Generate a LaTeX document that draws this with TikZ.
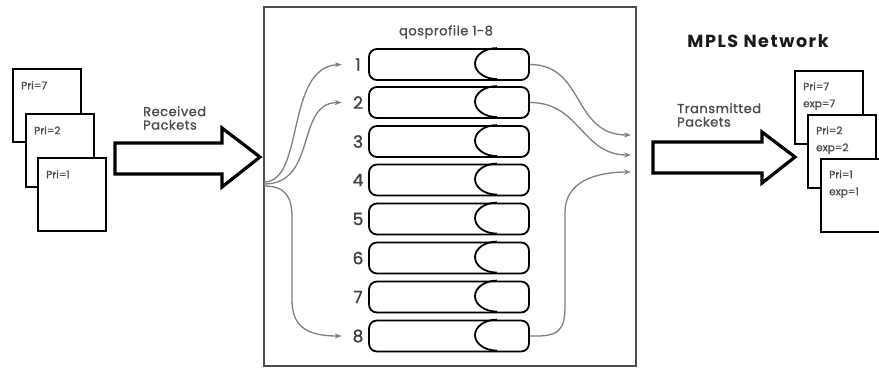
\documentclass[tikz,border=0pt]{standalone}
\usepackage{fontspec}
\setmainfont{Poppins}
\newfontfamily\medfont{Poppins}[FakeBold=1.2]
\newfontfamily\medwide{Poppins}[FakeBold=1.2,LetterSpace=4]
\newfontfamily\boldwide{Poppins}[LetterSpace=9]
\usetikzlibrary{arrows.meta}
\begin{document}
\begin{tikzpicture}[x=1pt,y=-1pt,
  pkt/.style={draw, line width=2.4pt, fill=white, minimum width=68pt, minimum height=73pt, anchor=north west, inner sep=0pt},
  pkttxt/.style={anchor=north west, inner sep=0pt, font=\medfont\fontsize{10.5}{17}\selectfont, text=black!70, align=left},
  bigarrow/.style={draw, line width=3.2pt, fill=white, line join=miter},
  lbl/.style={anchor=north west, inner sep=0pt, font=\medwide\fontsize{13}{13.5}\selectfont, text=black!70, align=left},
  queue/.style={draw, line width=1.8pt, rounded corners=8pt, minimum width=160pt, minimum height=31pt, inner sep=0pt},
  num/.style={minimum width=32pt, inner sep=0pt, font=\medfont\fontsize{17}{17}\selectfont, text=black!75},
  flow/.style={draw=black!50, line width=1.3pt, -{Stealth[length=7pt,width=5pt]}}
]
\useasboundingbox (0,0) rectangle (879,368);
\clip (0,0) rectangle (879,368);

% left packets
\node[pkt] (lp1) at (12,68) {};
\node[pkttxt] (lt1) at ([shift={(9,13)}]lp1.north west) {Pri=7};
\node[pkt] (lp2) at (25,113) {};
\node[pkttxt] (lt2) at ([shift={(9,13)}]lp2.north west) {Pri=2};
\node[pkt] (lp3) at (37,157) {};
\node[pkttxt] (lt3) at ([shift={(9,13)}]lp3.north west) {Pri=1};

% received arrow
\draw[bigarrow] (115,143) -- (222,143) -- (222,128) -- (260,157) -- (222,187) -- (222,174) -- (115,174) -- cycle;
\node[lbl] (rcv) at (143,106) {Received\\Packets};

% central box
\node[draw=black!70, line width=1.6pt, minimum width=372pt, minimum height=359pt, anchor=north west, inner sep=0pt] (box) at (263,6) {};
\node[inner sep=0pt, font=\medwide\fontsize{13}{13}\selectfont, text=black!70] (title) at (446,32) {qosprofile 1-8};

% queues
\foreach \i/\y in {1/64.5,2/102.5,3/141.5,4/180,5/219,6/258,7/297,8/336}{
  \node[queue] (q\i) at (449,\y) {};
  \draw[line width=1.8pt] ([xshift=48pt]q\i.north) arc[start angle=90, end angle=270, x radius=22pt, y radius=15.5pt];
  \node[num] (n\i) at (358,\y) {\i};
}

% inbound flows
\coordinate (fa) at (264,182);
\coordinate (fb) at (264,184);
\coordinate (fc) at (264,186);
\draw[flow] (fa) .. controls (305,182) and (285,67) .. (n1.west);
\draw[flow] (fb) .. controls (318,184) and (295,102.5) .. (n2.west);
\draw[flow] (fc) .. controls (285,186) and (292,196) .. (292,218) -- (292,300) .. controls (292,325) and (305,336) .. (n8.west);

% outbound flows
\coordinate (o1) at (631,135);
\coordinate (o2) at (631,155);
\coordinate (o3) at (631,172);
\draw[flow] (q1.east) .. controls (585,64.5) and (572,135) .. (o1);
\draw[flow] (q2.east) .. controls (580,102.5) and (582,155) .. (o2);
\draw[flow] (q8.east) .. controls (560,337) and (565,330) .. (565,305) -- (565,212) .. controls (565,182) and (595,172) .. (o3);

% transmitted arrow
\draw[bigarrow] (653,142) -- (762,142) -- (762,132) -- (795,157) -- (762,183) -- (762,173) -- (653,173) -- cycle;
\node[lbl] (tx) at (677,103) {Transmitted\\Packets};

\node[inner sep=0pt, font=\boldwide\fontsize{17.5}{18}\selectfont\bfseries, text=black!90] (mpls) at (758,41) {MPLS Network};

% right packets
\node[pkt] (rp1) at (794,70) {};
\node[pkttxt] (rt1) at ([shift={(9,12)}]rp1.north west) {Pri=7\\exp=7};
\node[pkt] (rp2) at (807,114) {};
\node[pkttxt] (rt2) at ([shift={(9,12)}]rp2.north west) {Pri=2\\exp=2};
\node[pkt] (rp3) at (820,158) {};
\node[pkttxt] (rt3) at ([shift={(9,12)}]rp3.north west) {Pri=1\\exp=1};
\end{tikzpicture}
\end{document}
